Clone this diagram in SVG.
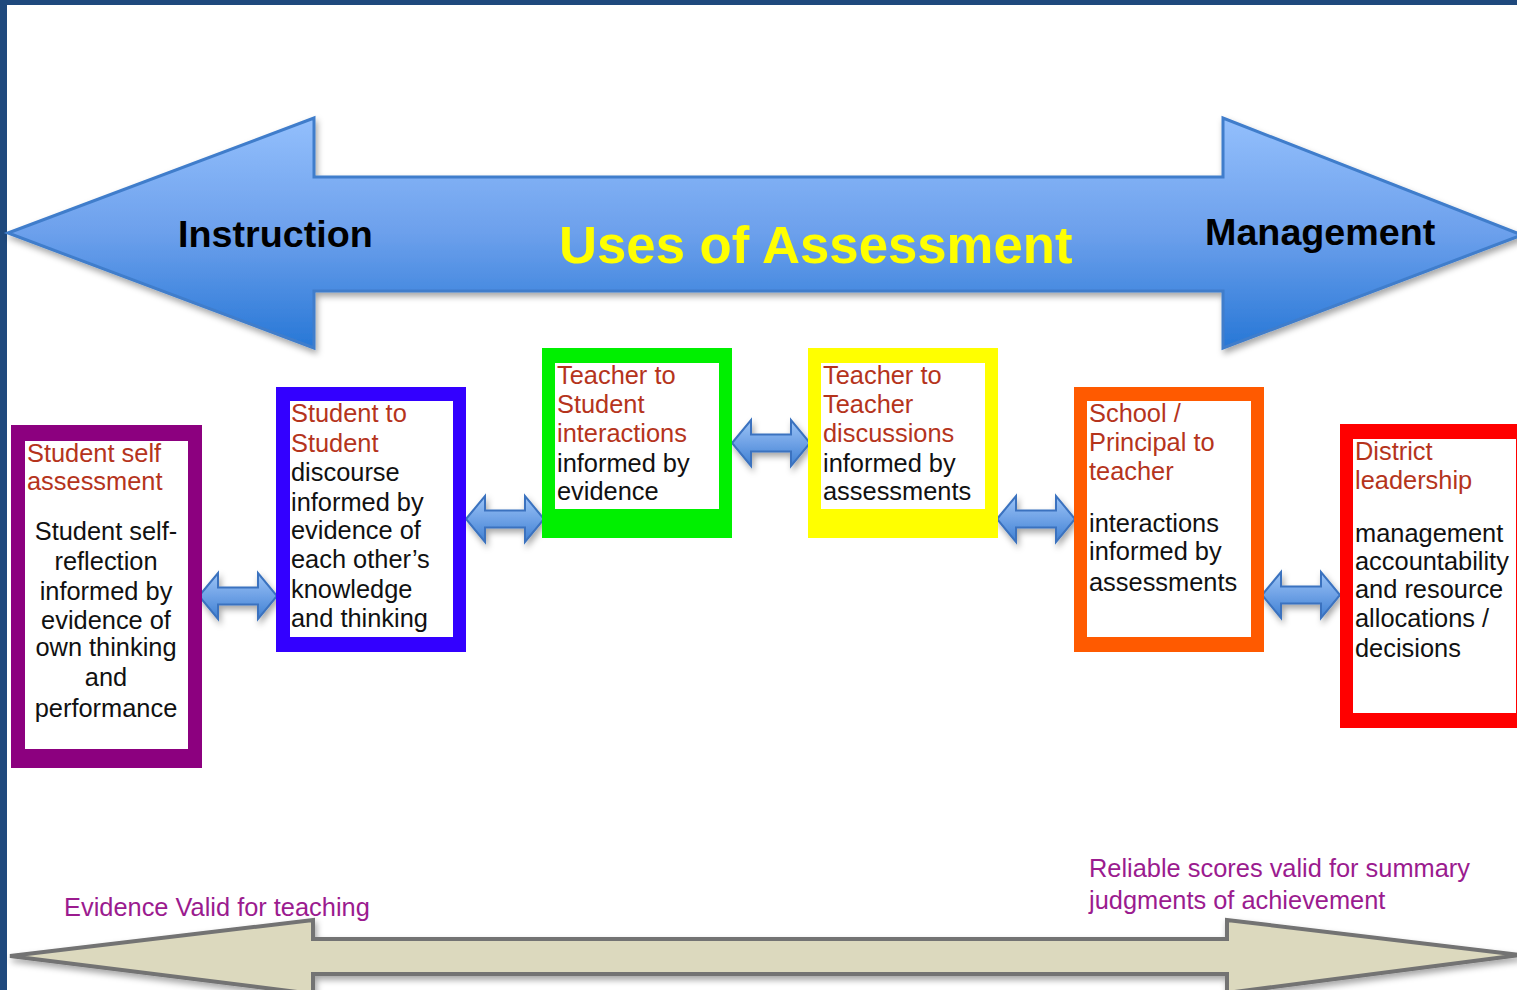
<svg xmlns="http://www.w3.org/2000/svg" xmlns:xlink="http://www.w3.org/1999/xlink" width="1517" height="990" viewBox="0 0 1517 990">
  <defs>
    <linearGradient id="bigBlue" x1="0" y1="0" x2="0" y2="1">
      <stop offset="0" stop-color="#93bffc"/>
      <stop offset="0.5" stop-color="#6ca0ec"/>
      <stop offset="1" stop-color="#2777d6"/>
    </linearGradient>
    <linearGradient id="smallBlue" x1="0" y1="0" x2="0" y2="1">
      <stop offset="0" stop-color="#9cc4f6"/>
      <stop offset="0.5" stop-color="#6fa2e6"/>
      <stop offset="1" stop-color="#3f80d2"/>
    </linearGradient>
    <filter id="shadow" x="-10%" y="-20%" width="120%" height="150%">
      <feDropShadow dx="2" dy="4" stdDeviation="3" flood-color="#000" flood-opacity="0.35"/>
    </filter>
    <!-- double-headed connector, centred on its origin -->
    <path id="dbl" d="M -39,0 L -20,-23 L -20,-8.5 L 20,-8.5 L 20,-23 L 39,0 L 20,23 L 20,8.5 L -20,8.5 L -20,23 Z"/>
  </defs>
  <style>
    .lbl { font-family: "Liberation Sans", Arial, sans-serif; font-size: 25.4px; }
    .head { fill: #b5341c; }
    .body { fill: #111111; }
    .big { font-family: "Liberation Sans", Arial, sans-serif; font-weight: bold; }
    .note { font-family: "Liberation Sans", Arial, sans-serif; font-size: 25.4px; fill: #9b1b8f; }
    .conn { fill: url(#smallBlue); stroke: #3a72bf; stroke-width: 2; filter: url(#shadow); }
  </style>

  <rect x="0" y="0" width="1517" height="990" fill="#ffffff"/>
  <!-- slide frame -->
  <rect x="0" y="0" width="1517" height="5" fill="#1f497d"/>
  <rect x="0" y="0" width="7" height="990" fill="#1f497d"/>

  <!-- top banner arrow -->
  <g id="uses-arrow">
    <path d="M 8,233 L 314,118 L 314,177 L 1223,177 L 1223,118 L 1522,235 L 1223,348 L 1223,291 L 314,291 L 314,348 Z" fill="url(#bigBlue)" stroke="#3f7dcb" stroke-width="3" filter="url(#shadow)"/>
    <text class="big" x="178" y="247" font-size="37.7" fill="#000">Instruction</text>
    <text class="big" x="559" y="263" font-size="52.7" fill="#ffff00">Uses of Assessment</text>
    <text class="big" x="1205" y="245" font-size="37.7" fill="#000">Management</text>
  </g>

  <!-- bottom scale arrow -->
  <g id="validity-arrow">
    <path d="M 10,956 L 313,920 L 313,939 L 1227,939 L 1227,920 L 1520,955 L 1227,993 L 1227,974 L 313,974 L 313,994 Z" fill="#dcd9be" stroke="#737373" stroke-width="4" stroke-linejoin="miter" filter="url(#shadow)"/>
    <text class="note" x="64" y="916">Evidence Valid for teaching</text>
    <text class="note" x="1089" y="877">Reliable scores valid for summary</text>
    <text class="note" x="1089" y="909">judgments of achievement</text>
  </g>

  <!-- connectors -->
  <g id="connectors">
    <use xlink:href="#dbl" href="#dbl" class="conn" transform="translate(238,596)"/>
    <use xlink:href="#dbl" href="#dbl" class="conn" transform="translate(505,519)"/>
    <use xlink:href="#dbl" href="#dbl" class="conn" transform="translate(771,443)"/>
    <use xlink:href="#dbl" href="#dbl" class="conn" transform="translate(1036,519)"/>
    <use xlink:href="#dbl" href="#dbl" class="conn" transform="translate(1301,595)"/>
  </g>

  <!-- level 1: student self assessment -->
  <g id="student-self">
    <rect x="11" y="425" width="191" height="343" fill="#8c007f"/>
    <rect x="25" y="441" width="163" height="308" fill="#ffffff"/>
    <text class="lbl head" x="27" y="462">Student self</text>
    <text class="lbl head" x="27" y="490">assessment</text>
    <g class="lbl body" text-anchor="middle">
      <text x="106" y="540">Student self-</text>
      <text x="106" y="570">reflection</text>
      <text x="106" y="600">informed by</text>
      <text x="106" y="629">evidence of</text>
      <text x="106" y="656">own thinking</text>
      <text x="106" y="686">and</text>
      <text x="106" y="717">performance</text>
    </g>
  </g>

  <!-- level 2: student to student -->
  <g id="student-student">
    <rect x="276" y="387" width="190" height="265" fill="#3300ff"/>
    <rect x="290" y="401" width="163" height="236" fill="#ffffff"/>
    <text class="lbl head" x="291" y="422">Student to</text>
    <text class="lbl head" x="291" y="452">Student</text>
    <g class="lbl body">
      <text x="291" y="481">discourse</text>
      <text x="291" y="511">informed by</text>
      <text x="291" y="539">evidence of</text>
      <text x="291" y="568">each other’s</text>
      <text x="291" y="598">knowledge</text>
      <text x="291" y="627">and thinking</text>
    </g>
  </g>

  <!-- level 3: teacher to student -->
  <g id="teacher-student">
    <rect x="542" y="348" width="190" height="190" fill="#00f000"/>
    <rect x="555" y="363" width="164" height="146" fill="#ffffff"/>
    <text class="lbl head" x="557" y="384">Teacher to</text>
    <text class="lbl head" x="557" y="413">Student</text>
    <text class="lbl head" x="557" y="442">interactions</text>
    <text class="lbl body" x="557" y="472">informed by</text>
    <text class="lbl body" x="557" y="500">evidence</text>
  </g>

  <!-- level 4: teacher to teacher -->
  <g id="teacher-teacher">
    <rect x="808" y="348" width="190" height="190" fill="#ffff00"/>
    <rect x="821" y="363" width="164" height="146" fill="#ffffff"/>
    <text class="lbl head" x="823" y="384">Teacher to</text>
    <text class="lbl head" x="823" y="413">Teacher</text>
    <text class="lbl head" x="823" y="442">discussions</text>
    <text class="lbl body" x="823" y="472">informed by</text>
    <text class="lbl body" x="823" y="500">assessments</text>
  </g>

  <!-- level 5: school / principal to teacher -->
  <g id="school-principal">
    <rect x="1074" y="387" width="190" height="265" fill="#ff5a00"/>
    <rect x="1087" y="401" width="164" height="236" fill="#ffffff"/>
    <text class="lbl head" x="1089" y="422">School /</text>
    <text class="lbl head" x="1089" y="451">Principal to</text>
    <text class="lbl head" x="1089" y="480">teacher</text>
    <text class="lbl body" x="1089" y="532">interactions</text>
    <text class="lbl body" x="1089" y="560">informed by</text>
    <text class="lbl body" x="1089" y="591">assessments</text>
  </g>

  <!-- level 6: district leadership -->
  <g id="district">
    <rect x="1340" y="424" width="200" height="304" fill="#ff0000"/>
    <rect x="1353" y="439" width="163" height="274" fill="#ffffff"/>
    <text class="lbl head" x="1355" y="460">District</text>
    <text class="lbl head" x="1355" y="489">leadership</text>
    <g class="lbl body">
      <text x="1355" y="542">management</text>
      <text x="1355" y="570">accountability</text>
      <text x="1355" y="598">and resource</text>
      <text x="1355" y="627">allocations /</text>
      <text x="1355" y="657">decisions</text>
    </g>
  </g>
</svg>
